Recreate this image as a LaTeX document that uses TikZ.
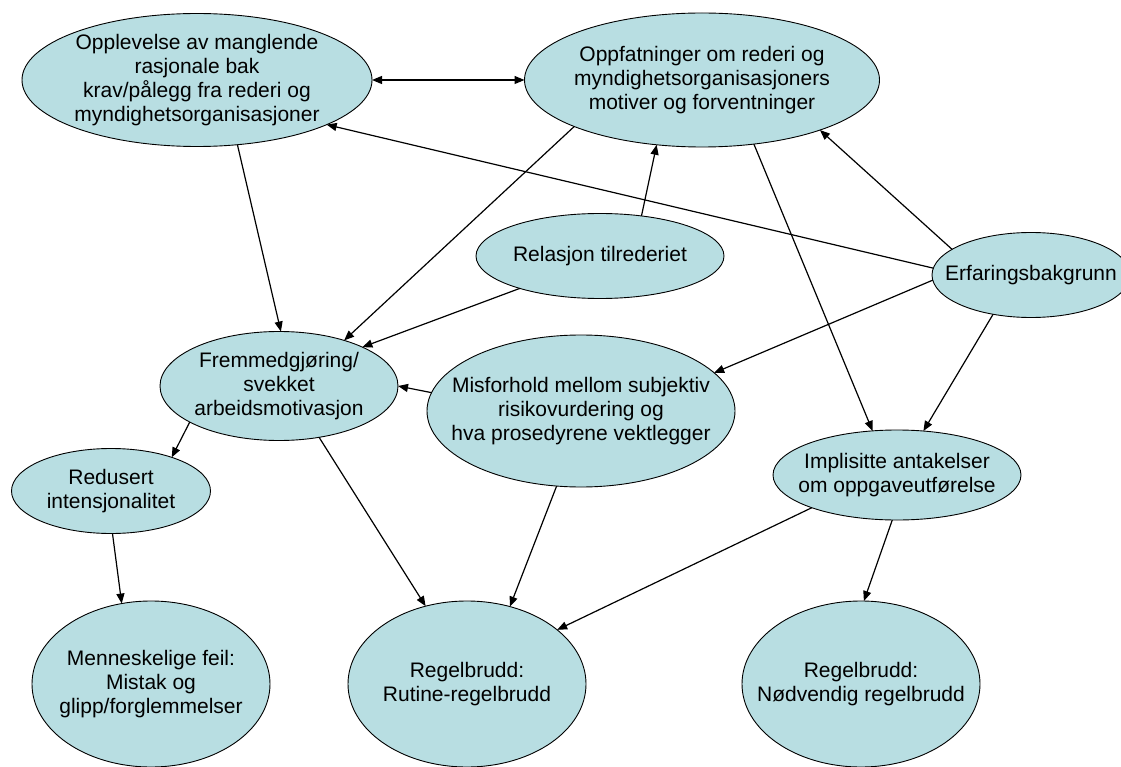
\documentclass[tikz,border=0pt]{standalone}
\usepackage{fontspec}
\setmainfont{Liberation Sans}
\usepackage{tikz}
\usetikzlibrary{shapes.geometric, arrows.meta}
\usepackage{xcolor}
\definecolor{bubble}{RGB}{184,222,226}

\begin{document}
\begin{tikzpicture}[x=1pt, y=-1pt,
  oval/.style={ellipse, draw, line width=0.9pt, fill=bubble, inner sep=-200pt,
  outer sep=0pt, align=center, font=\fontsize{21}{24}\selectfont},
  outcome/.style={oval, minimum width=238pt, minimum height=166pt},
  arr/.style={-{Triangle[length=10pt,width=8pt]}, line width=1.2pt}]
  \useasboundingbox (0,0) rectangle (1121,767);

  \node[oval, minimum width=350pt, minimum height=133pt] (opl) at (197,80)
    {Opplevelse av manglende\\rasjonale bak\\krav/pålegg fra rederi og\\myndighetsorganisasjoner};
  \node[oval, minimum width=355pt, minimum height=134pt] (opp) at (702,80)
    {Oppfatninger om rederi og\\myndighetsorganisasjoners\\motiver og forventninger};
  \node[oval, minimum width=248pt, minimum height=85pt] (rel) at (600,256) {Relasjon tilrederiet};
  \node[oval, minimum width=198pt, minimum height=85pt] (erf) at (1031,275) {Erfaringsbakgrunn};
  \node[oval, minimum width=238pt, minimum height=109pt] (fre) at (279,386)
    {Fremmedgjøring/\\svekket\\arbeidsmotivasjon};
  \node[oval, minimum width=308pt, minimum height=152pt] (mis) at (581,411)
    {Misforhold mellom subjektiv\\risikovurdering og\\hva prosedyrene vektlegger};
  \node[oval, minimum width=248pt, minimum height=90pt] (imp) at (897,475)
    {Implisitte antakelser\\om oppgaveutførelse};
  \node[oval, minimum width=199pt, minimum height=85pt] (red) at (111,491)
    {Redusert\\intensjonalitet};
  \node[outcome] (men) at (151,684) {Menneskelige feil:\\Mistak og\\glipp/forglemmelser};
  \node[outcome] (rut) at (467,684) {Regelbrudd:\\Rutine-regelbrudd};
  \node[outcome] (nod) at (861,684) {Regelbrudd:\\Nødvendig regelbrudd};

  \draw[arr, {Triangle[length=10pt,width=8pt]}-{Triangle[length=10pt,width=8pt]}] (opl) -- (opp);
  \draw[arr] (erf.176.5) -- (opl.-19.2);
  \draw[arr] (erf.162.4) -- (opp.-23.9);
  \draw[arr] (rel.44.4) -- (opp.-125.8);
  \draw[arr] (opl.-58.5) -- (fre.88);
  \draw[arr] (opp.-160.7) -- (fre.35.7);
  \draw[arr] (rel.-158.9) -- (fre.25.3);
  \draw[arr] (mis.173) -- (fre.0);
  \draw[arr] (erf.-177) -- (mis.16.2);
  \draw[arr] (opp.-51.6) -- (imp.119.9);
  \draw[arr] (erf.-134.3) -- (imp.59.2);
  \draw[arr] (fre.-158) -- (red.29.1);
  \draw[arr] (fre.-52.8) -- (rut.118.9);
  \draw[arr] (mis.-108.2) -- (rut.61.7);
  \draw[arr] (imp.-159.1) -- (rut.31.3);
  \draw[arr] (imp.-96.8) -- (nod.88);
  \draw[arr] (red.-88.7) -- (men.110);
\end{tikzpicture}
\end{document}
